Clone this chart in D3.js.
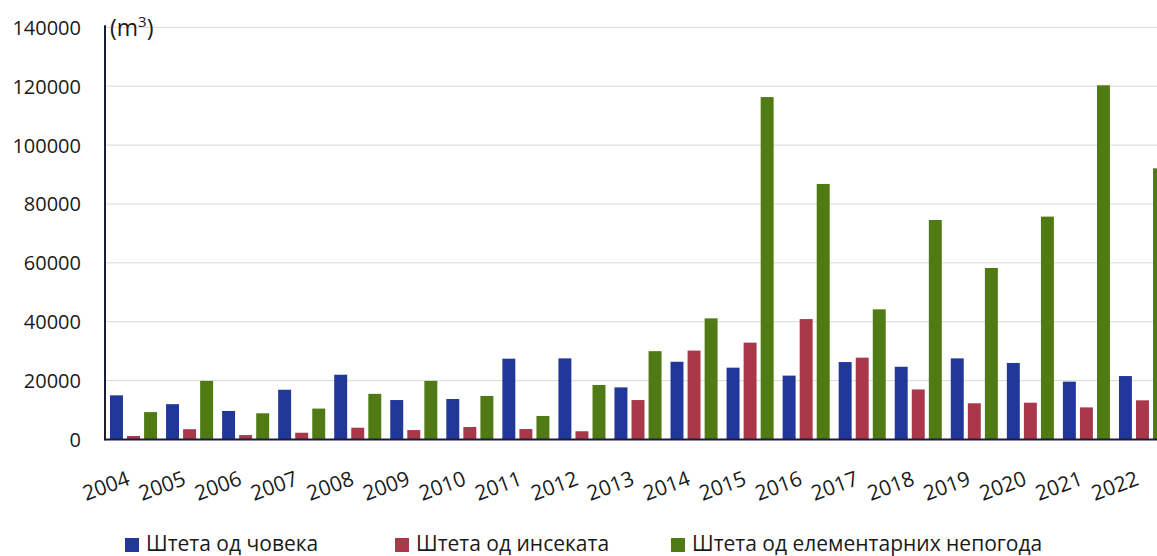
<!DOCTYPE html>
<html><head><meta charset="utf-8">
<script src="https://cdn.jsdelivr.net/npm/d3@7"></script>
<style>
html,body{margin:0;padding:0;background:#fff;overflow:hidden;}
text{font-family:"Open Sans",sans-serif;fill:#1a1a1a;}
</style></head>
<body><svg id="c" width="1157" height="556"></svg>
<script>
const years = ["2004","2005","2006","2007","2008","2009","2010","2011","2012","2013","2014","2015","2016","2017","2018","2019","2020","2021","2022"];
const seriesNames = ["Штета од човека","Штета од инсеката","Штета од елементарних непогода"];
const human   = [15000,12000,9700,16900,22000,13400,13750,27450,27550,17700,26400,24400,21700,26300,24700,27550,26000,19650,21550];
const insects = [1200,3500,1500,2300,4000,3200,4250,3550,2800,13400,30200,32900,40900,27800,17000,12300,12500,10900,13300];
const weather = [9300,19900,8900,10500,15500,19900,14800,8000,18500,30000,41150,116300,86800,44200,74550,58250,75700,120300,92100];
const yTicks = [0,20000,40000,60000,80000,100000,120000,140000];
const colors = ["#22379a","#a8384a","#4f7a14"];

(function(){
const svg = d3.select("#c");
const pl = 105, pr = 1170, pt = 27.3, pb = 439.5;
const y = d3.scaleLinear().domain([0,140000]).range([pb, pt]);
const x0 = d3.scaleBand().domain(years).range([pl, pr]).padding(0);
const x1 = d3.scaleBand().domain(d3.range(3)).range([5, x0.bandwidth()-4]).paddingInner(0.24).paddingOuter(0);

svg.append("g").selectAll("line").data(yTicks.filter(d=>d>0)).join("line")
  .attr("x1", pl).attr("x2", 1157).attr("y1", d=>y(d)).attr("y2", d=>y(d))
  .attr("stroke", "#d9d9d9").attr("stroke-width", 1);

const yAxis = d3.axisLeft(y).tickValues(yTicks).tickSize(0).tickPadding(0).tickFormat(d=>String(d));
const gy = svg.append("g").attr("transform", `translate(81,0)`).call(yAxis);
gy.select(".domain").remove();
gy.selectAll("text").attr("font-size", 20).attr("font-family","Open Sans, sans-serif").attr("fill","#1a1a1a").attr("dy","0.35em");

const data = [human, insects, weather];
const groups = svg.append("g").selectAll("g").data(years).join("g")
  .attr("transform", d=>`translate(${x0(d)},0)`);
groups.selectAll("rect").data((d,i)=>data.map((s,k)=>({k, v:s[i]}))).join("rect")
  .attr("x", d=>x1(d.k)).attr("width", x1.bandwidth())
  .attr("y", d=>y(d.v)).attr("height", d=>pb - y(d.v))
  .attr("fill", d=>colors[d.k]);

svg.append("line").attr("x1", pl).attr("x2", 1157).attr("y1", pb).attr("y2", pb)
  .attr("stroke", "#1b1b3a").attr("stroke-width", 2);
svg.append("line").attr("x1", pl).attr("x2", pl).attr("y1", pt-2).attr("y2", pb+1)
  .attr("stroke", "#1b1b3a").attr("stroke-width", 2);

const xAxis = d3.axisBottom(x0).tickSize(0).tickPadding(0);
const gx = svg.append("g").attr("transform", `translate(0,${pb})`).call(xAxis);
gx.select(".domain").remove();
gx.selectAll("text").attr("font-size", 21).attr("font-family","Open Sans, sans-serif").attr("fill","#1a1a1a")
  .attr("text-anchor","end").attr("dy",0).attr("y",0)
  .attr("transform","translate(-2,45) rotate(-20)");

const unit = svg.append("text").attr("x", 110).attr("y", 36).attr("font-size", 23);
unit.append("tspan").text("(m");
unit.append("tspan").text("3").attr("font-size", 15).attr("dy", -9);
unit.append("tspan").text(")").attr("dy", 9);

const legX = [125, 395, 671];
const leg = svg.append("g").selectAll("g").data(seriesNames).join("g")
  .attr("transform", (d,i)=>`translate(${legX[i]},538)`);
leg.append("rect").attr("width", 14).attr("height", 14).attr("y", 0).attr("fill", (d,i)=>colors[i]);
leg.append("text").attr("x", 21).attr("y", 13).attr("font-size", 21).text(d=>d);
})();
</script></body></html>
